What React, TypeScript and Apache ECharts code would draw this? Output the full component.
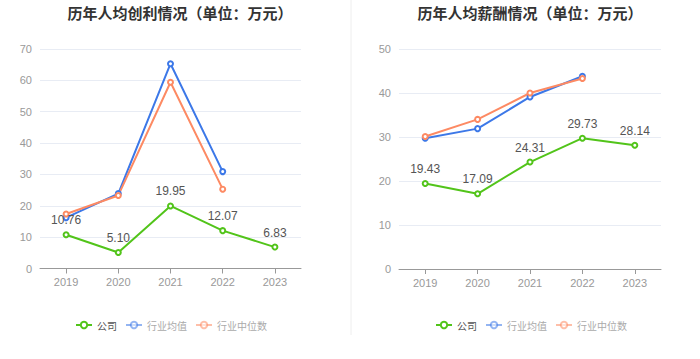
import React, { useEffect, useRef } from "react";
import * as echarts from "echarts";

const years = ["2019", "2020", "2021", "2022", "2023"];
const profitCompany = [10.76, 5.1, 19.95, 12.07, 6.83];
const profitAvg = [16.2, 23.9, 65.3, 30.9, null];
const profitMedian = [17.4, 23.3, 59.4, 25.3, null];
const salaryCompany = [19.43, 17.09, 24.31, 29.73, 28.14];
const salaryAvg = [29.7, 31.9, 39.1, 43.8, null];
const salaryMedian = [30.1, 34.0, 40.0, 43.3, null];
const seriesNames = ["公司", "行业均值", "行业中位数"];
const titles = ["历年人均创利情况（单位：万元）", "历年人均薪酬情况（单位：万元）"];

const GREEN = "#52c41a";
const BLUE = "#3c78e8";
const ORANGE = "#fd8a63";

export default function App() {
  const ref = useRef<HTMLDivElement>(null);
  useEffect(() => {
    const chart = echarts.init(ref.current!, null, { renderer: "svg" });
    const mkSeries = (name: string, data: any[], color: string, idx: number, label: boolean) => ({
      name,
      type: "line",
      xAxisIndex: idx,
      yAxisIndex: idx,
      data,
      symbol: "emptyCircle",
      symbolSize: 5,
      showAllSymbol: true,
      lineStyle: { color, width: 2 },
      itemStyle: { color, borderWidth: 1.5 },
      label: label
        ? { show: true, position: "top", color: "#555", fontSize: 12, formatter: (p: any) => p.value.toFixed(2) }
        : { show: false },
      z: label ? 3 : 2,
    });
    const legendData = [
      { name: seriesNames[0], textStyle: { color: "#555" } },
      { name: seriesNames[1], itemStyle: { opacity: 0.55 }, lineStyle: { opacity: 0.55 }, textStyle: { color: "#aaa" } },
      { name: seriesNames[2], itemStyle: { opacity: 0.55 }, lineStyle: { opacity: 0.55 }, textStyle: { color: "#aaa" } },
    ];
    const legendCommon = {
      data: legendData,
      top: 315,
      itemWidth: 16,
      itemHeight: 8,
      itemGap: 8,
      textStyle: { fontSize: 10, fontFamily: "Noto Sans CJK SC" },
      selectedMode: false,
    };
    const axisCommon = { axisLabel: { color: "#999", fontSize: 11 } };
    chart.setOption({
      animation: false,
      color: [GREEN, BLUE, ORANGE],
      title: [
        { text: titles[0], left: 175, top: 0, textAlign: "center", textStyle: { fontSize: 15, fontWeight: "bold", color: "#333", fontFamily: "Noto Sans CJK SC" } },
        { text: titles[1], left: 525, top: 0, textAlign: "center", textStyle: { fontSize: 15, fontWeight: "bold", color: "#333", fontFamily: "Noto Sans CJK SC" } },
      ],
      legend: [
        { ...legendCommon, left: 70 },
        { ...legendCommon, left: 430 },
      ],
      grid: [
        { left: 40, right: 399, top: 49, height: 219.5, containLabel: false },
        { left: 399, right: 39, top: 49, height: 220, containLabel: false },
      ],
      xAxis: [0, 1].map((i) => ({
        type: "category",
        gridIndex: i,
        data: years,
        boundaryGap: true,
        axisLine: { lineStyle: { color: "#999" } },
        axisTick: { show: true, alignWithLabel: true, lineStyle: { color: "#999" } },
        axisLabel: { color: "#999", fontSize: 11, margin: 8 },
      })),
      yAxis: [
        { type: "value", gridIndex: 0, min: 0, max: 70, interval: 10, splitLine: { lineStyle: { color: "#e8ecf4" } }, ...axisCommon },
        { type: "value", gridIndex: 1, min: 0, max: 50, interval: 10, splitLine: { lineStyle: { color: "#e8ecf4" } }, ...axisCommon },
      ],
      graphic: [
        { type: "line", shape: { x1: 351, y1: 0, x2: 351, y2: 335 }, style: { stroke: "#eeeeee", lineWidth: 1 } },
      ],
      series: [
        mkSeries(seriesNames[0], profitCompany, GREEN, 0, true),
        mkSeries(seriesNames[1], profitAvg, BLUE, 0, false),
        mkSeries(seriesNames[2], profitMedian, ORANGE, 0, false),
        mkSeries(seriesNames[0], salaryCompany, GREEN, 1, true),
        mkSeries(seriesNames[1], salaryAvg, BLUE, 1, false),
        mkSeries(seriesNames[2], salaryMedian, ORANGE, 1, false),
      ],
    });
    return () => chart.dispose();
  }, []);
  return <div ref={ref} style={{ width: 700, height: 359, position: "absolute", left: 0, top: 0, background: "#fff" }} />;
}
